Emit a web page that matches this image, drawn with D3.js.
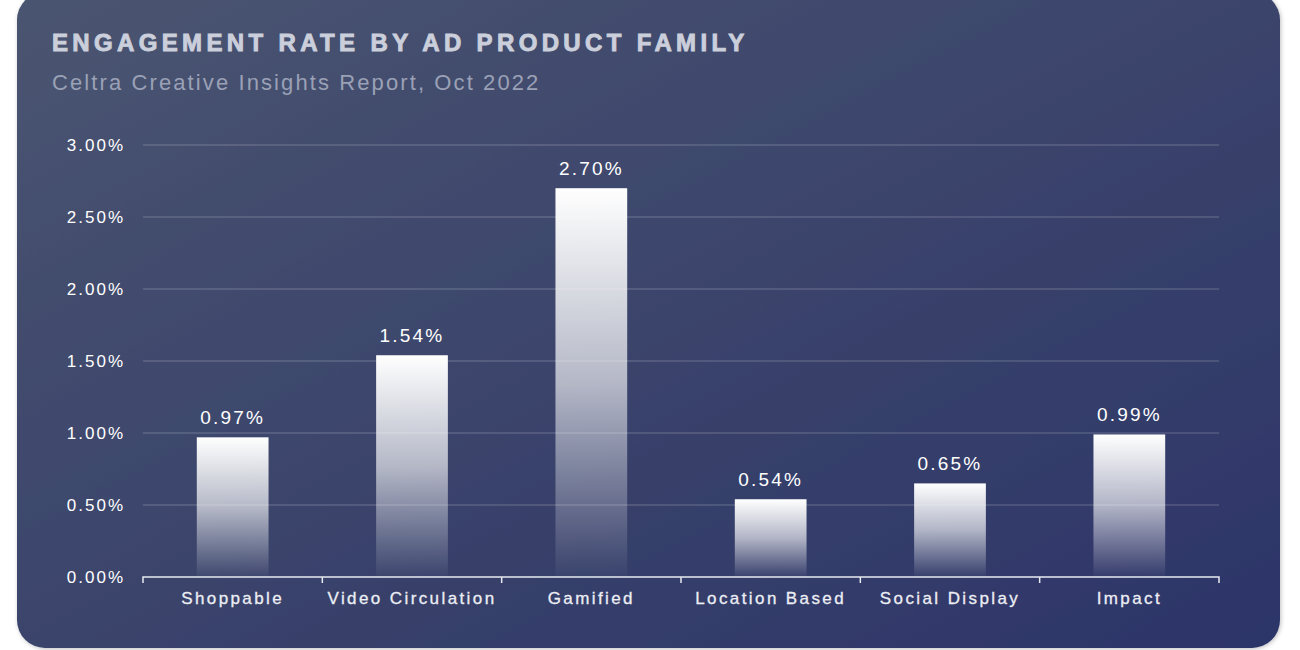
<!DOCTYPE html>
<html><head><meta charset="utf-8">
<script src="https://cdn.jsdelivr.net/npm/d3@7"></script>
<style>html,body{margin:0;padding:0;background:#fff;}svg{display:block;}</style>
</head><body>
<svg id="chart" width="1300" height="650"></svg>
<script>
const categories = ["Shoppable","Video Circulation","Gamified","Location Based","Social Display","Impact"];
const values = [0.97,1.54,2.70,0.54,0.65,0.99];
const yTicks = [0,0.5,1.0,1.5,2.0,2.5,3.0];
const title = "ENGAGEMENT RATE BY AD PRODUCT FAMILY";
const subtitle = "Celtra Creative Insights Report, Oct 2022";

const svg = d3.select("#chart");
const defs = svg.append("defs");
const bg = defs.append("linearGradient").attr("id","bg").attr("x1",0).attr("y1",0).attr("x2",1).attr("y2",1);
bg.append("stop").attr("offset","0%").attr("stop-color","#4a5570");
bg.append("stop").attr("offset","100%").attr("stop-color","#2c3468");
const bar = defs.append("linearGradient").attr("id","bar").attr("x1",0).attr("y1",0).attr("x2",0).attr("y2",1);
bar.append("stop").attr("offset","0%").attr("stop-color","#ffffff").attr("stop-opacity",1);
bar.append("stop").attr("offset","50%").attr("stop-color","#ffffff").attr("stop-opacity",0.62);
bar.append("stop").attr("offset","100%").attr("stop-color","#ffffff").attr("stop-opacity",0.02);
const sh = defs.append("filter").attr("id","sh").attr("x","-5%").attr("y","-5%").attr("width","110%").attr("height","110%");
sh.append("feDropShadow").attr("dx",1).attr("dy",1).attr("stdDeviation",2).attr("flood-color","#000").attr("flood-opacity",0.25);

svg.append("rect").attr("x",17).attr("y",-8).attr("width",1263).attr("height",656).attr("rx",28)
  .attr("fill","url(#bg)").attr("filter","url(#sh)");

const font = "Liberation Sans, Arial, sans-serif";
svg.append("text").attr("x",52).attr("y",51).text(title)
  .attr("font-family",font).attr("font-weight","bold").attr("font-size",24)
  .attr("letter-spacing",4.35).attr("fill","#cbcfdb").attr("stroke","#cbcfdb").attr("stroke-width",0.9);
svg.append("text").attr("x",52).attr("y",90).text(subtitle)
  .attr("font-family",font).attr("font-size",22)
  .attr("letter-spacing",2.1).attr("fill","#9aa1b6");

const x = d3.scaleBand().domain(categories).range([143,1219]).paddingInner(0.6).paddingOuter(0.3);
const y = d3.scaleLinear().domain([0,3]).range([577,145]);

// bars
svg.append("g").selectAll("rect").data(values).join("rect")
  .attr("x",(d,i)=>x(categories[i])).attr("width",x.bandwidth())
  .attr("y",d=>y(d)).attr("height",d=>y(0)-y(d)).attr("fill","url(#bar)");

// gridlines
svg.append("g").selectAll("line").data(yTicks.slice(1)).join("line")
  .attr("x1",143).attr("x2",1219).attr("y1",d=>y(d)).attr("y2",d=>y(d))
  .attr("stroke","#ffffff").attr("stroke-opacity",0.25).attr("stroke-width",1);

// y axis labels
const yAxis = d3.axisLeft(y).tickValues(yTicks).tickFormat(d=>d.toFixed(2)+"%").tickSize(0).tickPadding(18);
const gy = svg.append("g").attr("transform","translate(143,0)").call(yAxis);
gy.select(".domain").remove();
gy.selectAll("text").attr("font-family",font).attr("font-size",17).attr("letter-spacing",2).attr("fill","#ffffff").attr("dy","0.35em");

// x axis
const gx = svg.append("g").attr("transform","translate(0,577)");
const xAxis = d3.axisBottom(x).tickSize(0).tickPadding(13);
gx.call(xAxis);
gx.select(".domain").attr("d","M143,6V0H1219V6").attr("stroke","#e8eaf0").attr("stroke-width",1.5).attr("fill","none");
gx.selectAll(".tick text").attr("font-family",font).attr("font-size",17).attr("letter-spacing",2.4).attr("fill","#eceef4").attr("stroke","#eceef4").attr("stroke-width",0.3).attr("dy","0.8em");
const step = x.step();
const edges = d3.range(1,categories.length).map(i=>x(categories[i]) - x.paddingInner()*step/2);
gx.append("g").selectAll("line").data(edges).join("line")
  .attr("x1",d=>d).attr("x2",d=>d).attr("y1",0).attr("y2",6).attr("stroke","#e8eaf0").attr("stroke-width",1.5);

// value labels
svg.append("g").selectAll("text").data(values).join("text")
  .attr("x",(d,i)=>x(categories[i])+x.bandwidth()/2).attr("y",d=>y(d)-13)
  .attr("text-anchor","middle").text(d=>d.toFixed(2)+"%")
  .attr("font-family",font).attr("font-size",19).attr("letter-spacing",2.2).attr("fill","#ffffff");
</script>
</body></html>
